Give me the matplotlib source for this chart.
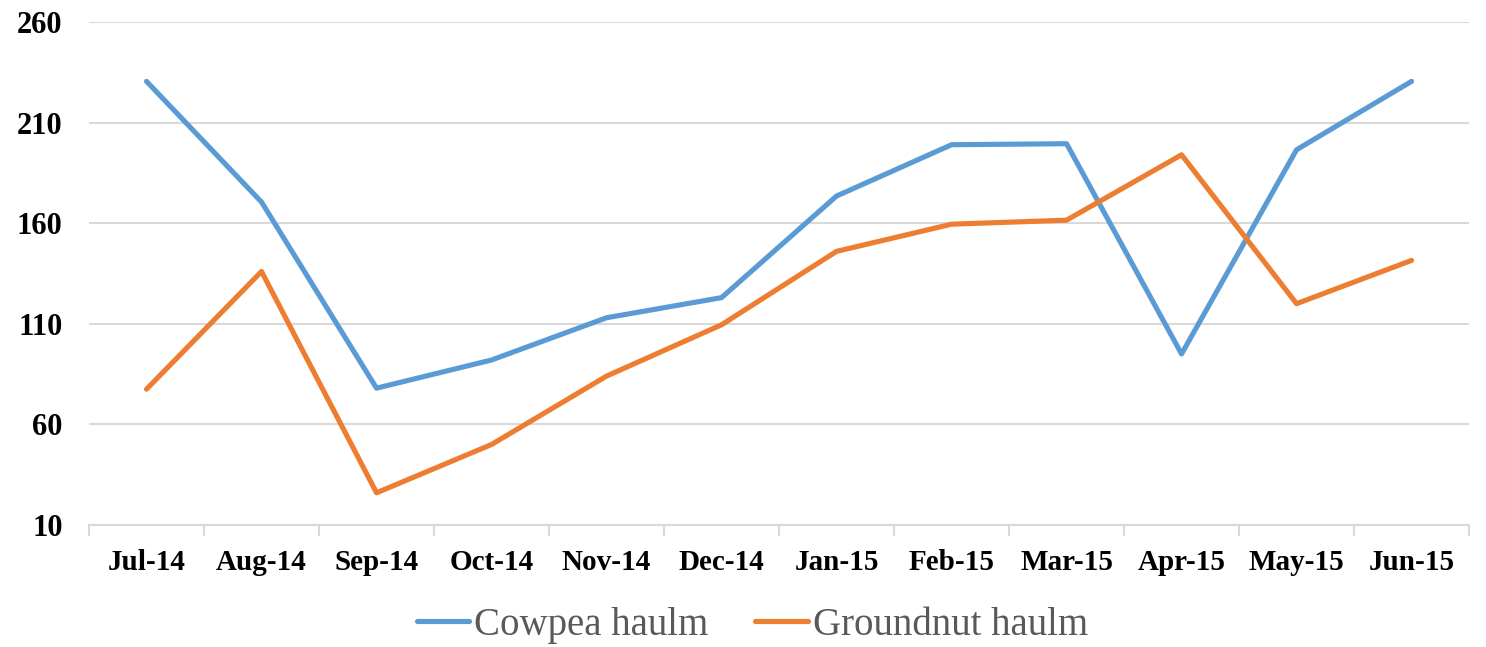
import matplotlib
matplotlib.use("Agg")
import matplotlib.pyplot as plt
import numpy as np

MONTHS = ["Jul-14", "Aug-14", "Sep-14", "Oct-14", "Nov-14", "Dec-14",
          "Jan-15", "Feb-15", "Mar-15", "Apr-15", "May-15", "Jun-15"]
COWPEA = [230.5, 170.5, 78, 92, 113, 123, 173.5, 199, 199.5, 95, 196.5, 230.5]
GROUNDNUT = [77.5, 136, 26, 50, 84, 109.5, 146, 159.5, 161.5, 194, 120, 141.5]
Y_TICKS = [10, 60, 110, 160, 210, 260]

BLUE = "#5B9BD5"
ORANGE = "#ED7D31"
GRID = "#D9D9D9"

plt.rcParams["font.family"] = ["Liberation Serif", "DejaVu Serif"]

fig = plt.figure(figsize=(14.86, 6.47), dpi=100)
ax = fig.add_axes([0.0599, 0.1886, 0.9287, 0.7774])

x = np.arange(len(MONTHS))
ax.plot(x, COWPEA, color=BLUE, lw=3.7, solid_capstyle="round",
        solid_joinstyle="round", label="Cowpea haulm", zorder=3)
ax.plot(x, GROUNDNUT, color=ORANGE, lw=3.7, solid_capstyle="round",
        solid_joinstyle="round", label="Groundnut haulm", zorder=3)

ax.set_xlim(-0.5, len(MONTHS) - 0.5)
ax.set_ylim(Y_TICKS[0], Y_TICKS[-1])
ax.set_yticks(Y_TICKS)
ax.set_yticklabels([str(v) for v in Y_TICKS], fontsize=22, fontweight="bold")
ax.set_xticks(x)
ax.set_xticklabels(MONTHS, fontsize=21, fontweight="bold")
ax.set_xticks(np.arange(-0.5, len(MONTHS)), minor=True)
ax.tick_params(axis="x", which="major", length=0, pad=17)
ax.tick_params(axis="x", which="minor", length=8, width=1.5, color=GRID)
ax.tick_params(axis="y", length=0, pad=19)

ax.grid(axis="y", color=GRID, lw=1.5, zorder=0)
for side in ["top", "right", "left"]:
    ax.spines[side].set_visible(False)
ax.spines["bottom"].set_color(GRID)
ax.spines["bottom"].set_linewidth(1.5)

leg = fig.legend(loc="center", bbox_to_anchor=(0.5064, 0.034), ncol=2,
                 frameon=False, fontsize=28, handlelength=1.34,
                 handletextpad=0.13, columnspacing=1.2)
for t in leg.get_texts():
    t.set_color("#595959")

fig.savefig("out.png", dpi=100)
